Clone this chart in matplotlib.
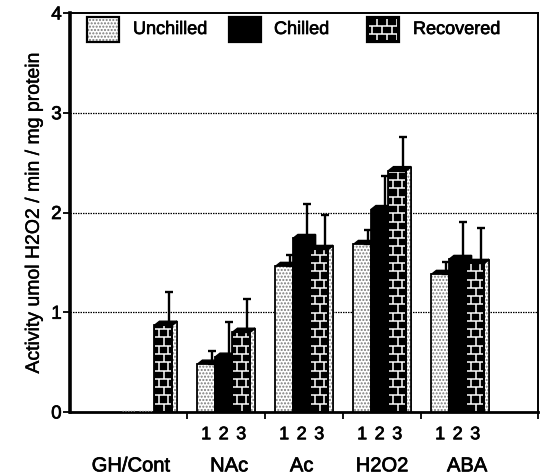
import matplotlib
matplotlib.use('Agg')
import matplotlib.pyplot as plt
import matplotlib.patheffects as pe
import numpy as np
from matplotlib.patches import Rectangle, Polygon
from matplotlib.collections import LineCollection

# ---------------- data ----------------
groups = ['GH/Cont', 'NAc', 'Ac', 'H2O2', 'ABA']
series = ['Unchilled', 'Chilled', 'Recovered']
unchilled = [0.0, 0.48, 1.46, 1.68, 1.38]
chilled = [0.0, 0.55, 1.74, 2.03, 1.53]
recovered = [0.87, 0.80, 1.63, 2.42, 1.49]
unchilled_err = [0.0, 0.13, 0.11, 0.14, 0.12]
chilled_err = [0.0, 0.35, 0.35, 0.34, 0.37]
recovered_err = [0.33, 0.33, 0.34, 0.34, 0.35]
sub_labels = ['1', '2', '3']
yticks = [0, 1, 2, 3, 4]
ylabel = 'Activity umol H2O2 / min / mg protein'

plt.rcParams['font.family'] = ['Liberation Sans', 'DejaVu Sans']
heavy = [pe.withStroke(linewidth=0.5, foreground='black')]

W, H = 541, 477
fig = plt.figure(figsize=(W / 100, H / 100), dpi=100)
ax = fig.add_axes([70 / W, (H - 413) / H, 468 / W, 399 / H])

pitch = 0.225
shift = -0.03
dx, dy = 0.065, 0.04
values = [unchilled, chilled, recovered]
errs = [unchilled_err, chilled_err, recovered_err]
x_idx = np.arange(len(groups))


def brick_lines(x0, x1, y0, y1, bw, bh):
    segs = []
    k = 0
    y = y0
    while y < y1:
        segs.append([(x0 - bw, y), (x1 + bw, y)])
        off = 0 if k % 2 == 0 else bw / 2
        xv = x0 + off
        while xv < x1 + bw:
            segs.append([(xv, y), (xv, min(y + bh, y1 + bh))])
            xv += bw
        y += bh
        k += 1
    return segs


for j, (vals, er) in enumerate(zip(values, errs)):
    xs = x_idx + (j - 1) * pitch + shift
    z = 3 + j * 2
    if j == 0:
        bars = ax.bar(xs, vals, width=pitch, align='center', facecolor='white',
                      edgecolor='#7a7a7a', hatch='.....', linewidth=0, zorder=z)
    else:
        bars = ax.bar(xs, vals, width=pitch, align='center', facecolor='black',
                      edgecolor='black', linewidth=0, zorder=z)
    for b in bars:
        x0 = b.get_x()
        x1 = x0 + b.get_width()
        h = b.get_height()
        if h <= 0:
            ax.plot([x0 + 0.03, x1 - 0.03], [0.012, 0.012], color='#777777',
                    linewidth=1.0, linestyle=(0, (1, 1)), zorder=z)
            continue
        # depth: side + top
        if j == 2:
            ax.add_patch(Polygon([(x1, 0), (x1, h), (x1 + dx, h + dy), (x1 + dx, 0)],
                                 closed=True, facecolor='white', edgecolor='#7a7a7a',
                                 hatch='.....', linewidth=0, zorder=z - 0.5))
            ax.add_patch(Polygon([(x1, 0), (x1, h), (x1 + dx, h + dy), (x1 + dx, 0)],
                                 closed=True, facecolor='none', edgecolor='black',
                                 linewidth=1.3, zorder=z - 0.4))
        else:
            ax.add_patch(Polygon([(x1, 0), (x1, h), (x1 + dx, h + dy), (x1 + dx, 0)],
                                 closed=True, facecolor='black', edgecolor='black',
                                 linewidth=1.2, zorder=z - 0.5))
        ax.add_patch(Polygon([(x0, h), (x0 + dx, h + dy), (x1 + dx, h + dy), (x1, h)],
                             closed=True, facecolor='black', edgecolor='black',
                             linewidth=1.0, zorder=z - 0.3))
        # outline of front face
        ax.add_patch(Rectangle((x0, 0), x1 - x0, h, facecolor='none',
                               edgecolor='black', linewidth=1.3, zorder=z + 0.2))
        if j == 2:
            lc = LineCollection(brick_lines(x0, x1, 0, h, 0.12, 0.083),
                                colors='white', linewidths=1.1, zorder=z + 0.1)
            ax.add_collection(lc)
            lc.set_clip_path(Rectangle((x0 + 0.012, 0.01), x1 - x0 - 0.024, h - 0.02,
                                       transform=ax.transData))
    # error bars (upper only)
    vals_a = np.array(vals)
    er_a = np.array(er)
    mask = er_a > 0
    ax.errorbar(xs[mask] + 0.07, vals_a[mask], yerr=[np.zeros(mask.sum()), er_a[mask]],
                fmt='none', ecolor='black', elinewidth=1.7, capsize=3.2,
                capthick=1.7, zorder=z + 0.5)

# grid lines
for yv in yticks[1:-1]:
    ax.axhline(yv, color='black', linewidth=0.9, linestyle=(0, (1.2, 0.8)), zorder=1)

ax.set_xlim(-1, 5)
ax.set_ylim(0, 4)
ax.set_yticks(yticks)
ax.set_yticklabels([str(t) for t in yticks], fontsize=13.5)
for t in ax.get_yticklabels():
    t.set_path_effects(heavy)
ax.set_xticks([0.5, 1.5, 2.5, 3.5, 5.0])
ax.set_xticklabels([])
ax.tick_params(axis='y', direction='out', length=5, width=1.3, pad=1)
ax.tick_params(axis='x', direction='out', length=5, width=1.3)
for s in ['top', 'right']:
    ax.spines[s].set_linewidth(1.4)
ax.spines['left'].set_linewidth(2.6)
ax.spines['bottom'].set_linewidth(2.0)

yl = ax.set_ylabel(ylabel, fontsize=14, labelpad=6)
yl.set_path_effects([pe.withStroke(linewidth=0.3, foreground='black')])

# sub labels and group labels
label_off = [-0.22, 0.04, -0.03, 0.0, 0.09]
for i, g in enumerate(groups):
    ax.text(i + label_off[i], -0.135, g, transform=ax.get_xaxis_transform(),
            ha='center', va='center', fontsize=14.5, path_effects=heavy)
    if i > 0:
        for j, s in enumerate(sub_labels):
            ax.text(i + (j - 1) * pitch + shift, -0.057, s,
                    transform=ax.get_xaxis_transform(), ha='center', va='center',
                    fontsize=13, path_effects=heavy)

# legend drawn manually
axw, axh = 468.0, 399.0
bw_px, bh_px = 32, 25
box_x = [87, 229, 367]
txt_x = [133, 274, 413]
by0 = 413 - 43
for j, name in enumerate(series):
    bx = (box_x[j] - 70) / axw
    by = by0 / axh
    w = bw_px / axw
    hh = bh_px / axh
    if j == 0:
        ax.add_patch(Rectangle((bx, by), w, hh, transform=ax.transAxes, facecolor='white',
                               edgecolor='#7a7a7a', hatch='.....', linewidth=0, zorder=20))
    else:
        ax.add_patch(Rectangle((bx, by), w, hh, transform=ax.transAxes, facecolor='black',
                               edgecolor='black', linewidth=0, zorder=20))
        if j == 2:
            lc = LineCollection(brick_lines(bx, bx + w, by, by + hh, 10 / axw, 8 / axh),
                                colors='white', linewidths=1.1, transform=ax.transAxes,
                                zorder=21)
            ax.add_collection(lc)
            lc.set_clip_path(Rectangle((bx + 2 / axw, by + 2 / axh), w - 4 / axw,
                                       hh - 4 / axh, transform=ax.transAxes))
    ax.add_patch(Rectangle((bx, by), w, hh, transform=ax.transAxes, facecolor='none',
                           edgecolor='black', linewidth=1.6, zorder=22))
    ax.text((txt_x[j] - 70) / axw, (413 - 30.5) / axh, name, transform=ax.transAxes,
            ha='left', va='center', fontsize=13, zorder=22, path_effects=heavy)

fig.savefig('out.png', dpi=100)
